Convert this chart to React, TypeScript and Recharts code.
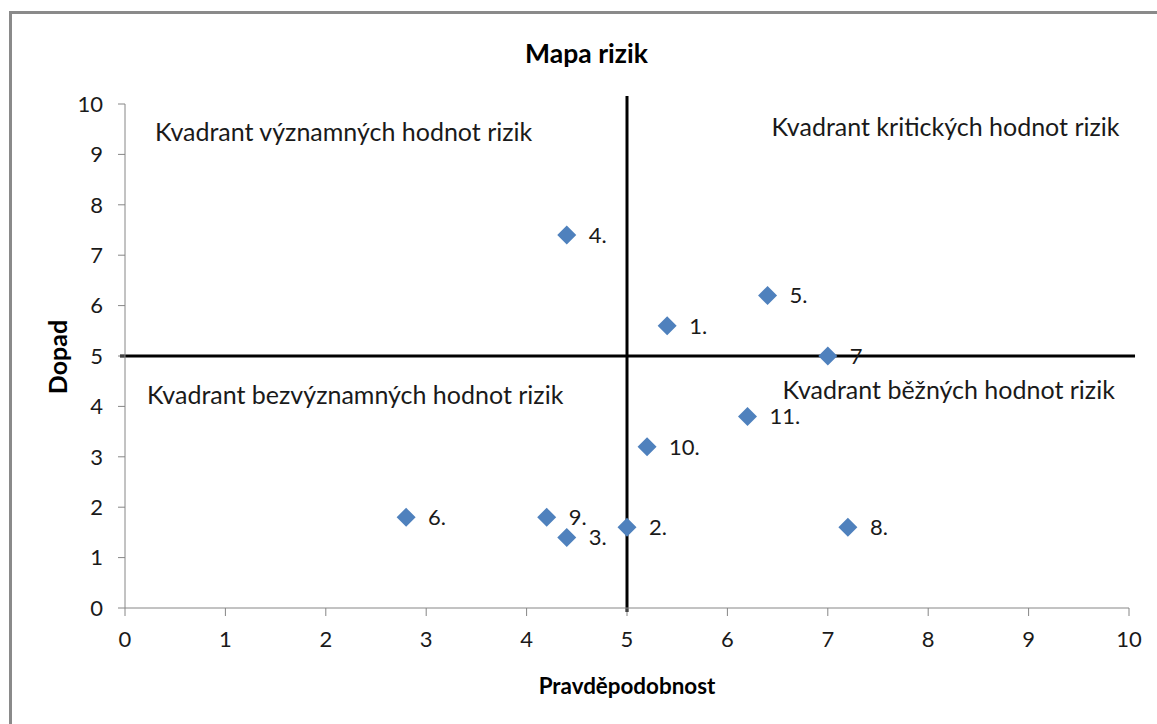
import React from 'react';
import { ScatterChart, Scatter, XAxis, YAxis, ReferenceLine } from 'recharts';

const riskLabels = ['1.', '2.', '3.', '4.', '5.', '6.', '7', '8.', '9.', '10.', '11.'];
const probability = [5.4, 5.0, 4.4, 4.4, 6.4, 2.8, 7.0, 7.2, 4.2, 5.2, 6.2];
const impact = [5.6, 1.6, 1.4, 7.4, 6.2, 1.8, 5.0, 1.6, 1.8, 3.2, 3.8];

const quadrantNames = [
  'Kvadrant významných hodnot rizik',
  'Kvadrant kritických hodnot rizik',
  'Kvadrant bezvýznamných hodnot rizik',
  'Kvadrant běžných hodnot rizik',
];
const quadrantX = [0.3, 6.44, 0.22, 6.55];
const quadrantY = [9.27, 9.36, 4.05, 4.15];

const axisTicks = [0, 1, 2, 3, 4, 5, 6, 7, 8, 9, 10];

const points = probability.map((x, i) => ({ x, y: impact[i], label: riskLabels[i] }));
const quadrants = quadrantNames.map((name, i) => ({ x: quadrantX[i], y: quadrantY[i], name }));

const FONT = 'Lato, "Open Sans", sans-serif';

const DiamondShape = (props: any) => {
  const { cx, cy, payload } = props;
  const r = 9.5;
  return (
    <g>
      <path
        d={`M${cx},${cy - r} L${cx + r},${cy} L${cx},${cy + r} L${cx - r},${cy} Z`}
        fill="#4F81BD"
      />
      <text x={cx + 22} y={cy} dy="0.36em" fontSize={22} fontFamily={FONT} fill="#1a1a1a">
        {payload.label}
      </text>
    </g>
  );
};

const QuadrantText = (props: any) => {
  const { cx, cy, payload } = props;
  return (
    <text x={cx} y={cy} fontSize={25} fontFamily={FONT} fill="#1a1a1a">
      {payload.name}
    </text>
  );
};

export default function App() {
  return (
    <div style={{ position: 'absolute', left: 0, top: 0, width: 1157, height: 724, background: '#fff', overflow: 'hidden' }}>
      <div
        style={{
          position: 'absolute',
          left: 9,
          top: 11,
          width: 1200,
          height: 800,
          borderTop: '3px solid #8a8a8a',
          borderLeft: '3px solid #8a8a8a',
        }}
      />
      <div
        style={{
          position: 'absolute',
          left: 0,
          width: 1157,
          top: 37,
          textAlign: 'center',
          fontFamily: FONT,
          fontWeight: 'bold',
          fontSize: 26.5,
          color: '#000',
          paddingLeft: 16,
          boxSizing: 'border-box',
        }}
      >
        Mapa rizik
      </div>
      <div
        style={{
          position: 'absolute',
          left: 125,
          width: 1004,
          top: 672,
          textAlign: 'center',
          fontFamily: FONT,
          fontWeight: 'bold',
          fontSize: 22.4,
          color: '#000',
        }}
      >
        Pravděpodobnost
      </div>
      <div
        style={{
          position: 'absolute',
          left: 57,
          top: 357,
          transform: 'translate(-50%, -50%) rotate(-90deg)',
          fontFamily: FONT,
          fontWeight: 'bold',
          fontSize: 25,
          color: '#000',
          whiteSpace: 'nowrap',
        }}
      >
        Dopad
      </div>
      <div style={{ position: 'absolute', left: 0, top: 0 }}>
        <ScatterChart width={1157} height={724} margin={{ top: 104, right: 28, bottom: 76, left: 65 }}>
          <XAxis
            type="number"
            dataKey="x"
            domain={[0, 10]}
            ticks={axisTicks}
            interval={0}
            height={40}
            stroke="#868686"
            tickSize={8}
            tickMargin={15}
            tick={{ fill: '#1a1a1a', fontSize: 22, fontFamily: FONT }}
            allowDataOverflow
          />
          <YAxis
            type="number"
            dataKey="y"
            domain={[0, 10]}
            ticks={axisTicks}
            interval={0}
            width={60}
            stroke="#868686"
            tickSize={7}
            tickMargin={15}
            tick={{ fill: '#1a1a1a', fontSize: 22, fontFamily: FONT }}
            allowDataOverflow
          />
          <ReferenceLine
            segment={[{ x: 5, y: -0.08 }, { x: 5, y: 10.16 }]}
            stroke="#000"
            strokeWidth={3}
            ifOverflow="visible"
          />
          <ReferenceLine
            segment={[{ x: -0.05, y: 5 }, { x: 10.06, y: 5 }]}
            stroke="#000"
            strokeWidth={3}
            ifOverflow="visible"
          />
          <Scatter data={quadrants} shape={QuadrantText} isAnimationActive={false} />
          <Scatter data={points} shape={DiamondShape} isAnimationActive={false} />
        </ScatterChart>
      </div>
    </div>
  );
}
